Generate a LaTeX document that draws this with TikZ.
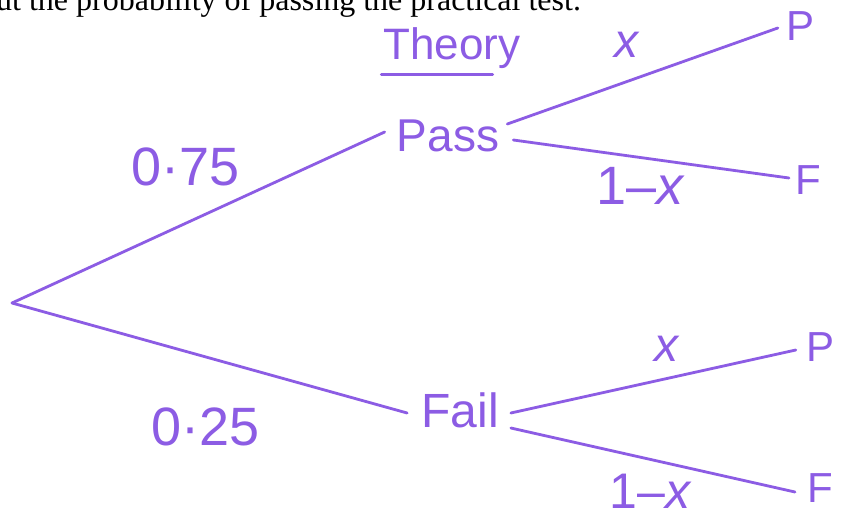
\documentclass[tikz,border=0pt]{standalone}
\usepackage{fontspec}
\setmainfont{Liberation Sans}
\newfontfamily\serifbody{Liberation Serif}
\definecolor{pen}{RGB}{140,92,228}
\begin{document}
\begin{tikzpicture}[x=1pt,y=-1pt,
  branch/.style={draw=pen, line width=2.8pt, line cap=round},
  hand/.style={text=pen, inner sep=0pt, font=\fontsize{#1}{#1}\selectfont},
  hand/.default=44]
\useasboundingbox (0,0) rectangle (851,522);
\clip (0,0) rectangle (851,522);
\fill[white] (0,0) rectangle (851,522);
\node[anchor=base west, inner sep=0pt, font=\serifbody\fontsize{32}{32}\selectfont] (head) at (-4,10) {ut the probability of passing the practical test.};
% tree nodes
\coordinate (root) at (12,303);
\node[hand=46] (pass) at (448,136) {Pass};
\node[hand=48] (fail) at (460,410) {Fail};
\node[hand=42] (p1) at (800,26) {P};
\node[hand=42] (f1) at (808,180) {F};
\node[hand=42] (p2) at (820,347) {P};
\node[hand=42] (f2) at (820,488) {F};
% title
\node[hand=44] (theory) at (452,48) {Theory};
\draw[draw=pen, line width=2.8pt, line cap=round] ([shift={(-2,6)}]theory.south west) -- ([shift={(-28,6)}]theory.south east);
% branches
\draw[branch] (root) -- ([shift={(-12,-4)}]pass.west);
\draw[branch] (root) -- ([shift={(-14,3)}]fail.west);
\draw[branch] ([shift={(8,-12)}]pass.east) -- ([shift={(-8,2)}]p1.west);
\draw[branch] ([shift={(14,4)}]pass.east) -- ([shift={(-6,-2)}]f1.west);
\draw[branch] ([shift={(12,3)}]fail.east) -- ([shift={(-10,3)}]p2.west);
\draw[branch] ([shift={(12,18)}]fail.east) -- ([shift={(-12,4)}]f2.west);
% labels
\node[hand=54] (l1) at (186,167) {0·75};
\node[hand=54] (l2) at (206,427) {0·25};
\node[hand=48] (l3) at (626,45) {\itshape x};
\node[hand=54] (l4) at (640,186) {1–\itshape x};
\node[hand=48] (l5) at (666,349) {\itshape x};
\node[hand=50] (l6) at (650,491) {1–\itshape x};
\end{tikzpicture}
\end{document}
